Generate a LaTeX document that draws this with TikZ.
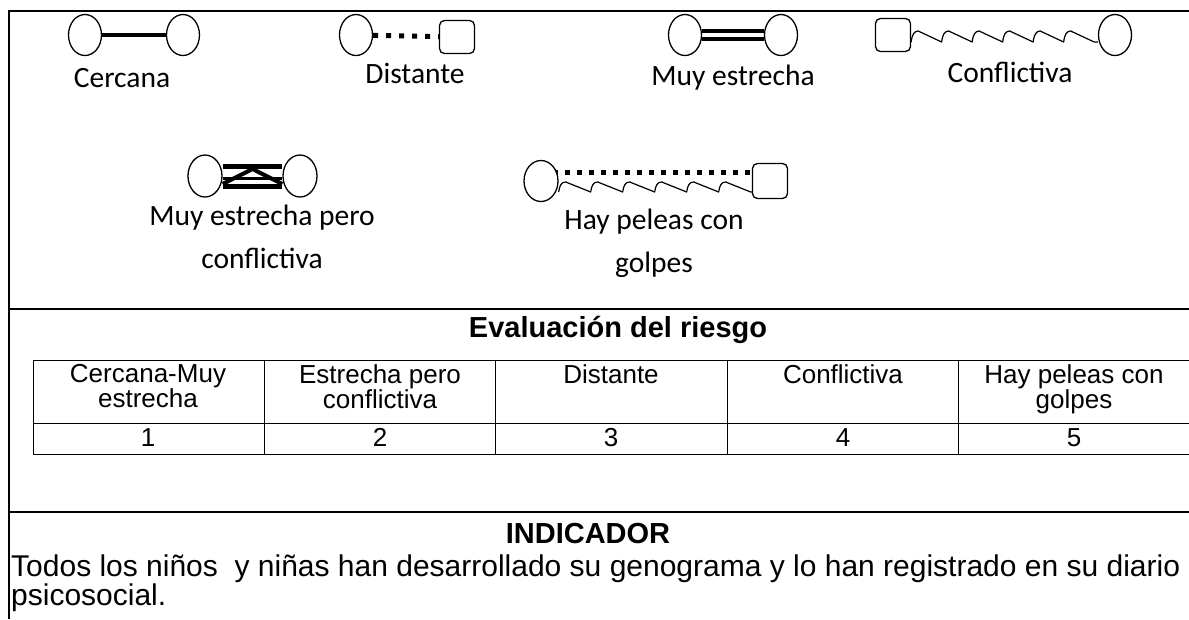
\documentclass[tikz,border=0pt]{standalone}
\usepackage{fontspec}
\setmainfont{Liberation Sans}
\newfontfamily\calibri{Carlito}
\usetikzlibrary{shapes.geometric,decorations,backgrounds,calc}
% saw teeth with a curled rising edge
\pgfdeclaredecoration{hooksaw}{init}{
  \state{init}[width=+0pt, next state=tooth]{\pgfpathmoveto{\pgfpointorigin}}
  \state{tooth}[switch if less than=+\pgfdecorationsegmentlength to final, width=+\pgfdecorationsegmentlength]{
    \pgfpathcurveto{\pgfpoint{1pt}{0.7*\pgfdecorationsegmentamplitude}}{\pgfpoint{3pt}{\pgfdecorationsegmentamplitude}}{\pgfpoint{7pt}{\pgfdecorationsegmentamplitude}}
    \pgfpathlineto{\pgfpoint{\pgfdecorationsegmentlength}{0pt}}
  }
  \state{final}{\pgfpathlineto{\pgfpointdecoratedpathlast}}
}
\tikzset{
  person/.style={draw, fill=white, ellipse, line width=1.3pt, minimum width=33pt, minimum height=41pt},
  boxperson/.style={draw, fill=white, rectangle, rounded corners=5pt, line width=1.3pt, minimum width=35pt, minimum height=33pt},
  legend/.style={font=\calibri\fontsize{29.5}{33}\selectfont},
  frameline/.style={line width=1.5pt},
  gridline/.style={line width=1pt},
  celltxt/.style={font=\fontsize{26}{23}\selectfont, align=center, anchor=north},
  headtxt/.style={font=\bfseries\fontsize{29}{33}\selectfont},
  bodytxt/.style={font=\fontsize{30}{27}\selectfont, align=left, anchor=north west},
  closetie/.style={line width=4.5pt},
  fartie/.style={line width=5pt, dash pattern=on 5pt off 8pt},
  fusedtie/.style={line width=4pt, double, double distance=4pt},
  hostiletie/.style={line width=1.2pt, line join=round, decorate, decoration={hooksaw, segment length=30.5pt, amplitude=11pt}}
}
\begin{document}
\begin{tikzpicture}[x=1pt,y=-1pt]
\tikzstyle{every node}+=[inner sep=0pt]
\useasboundingbox (0,0) rectangle (1189,619);
% outer frame and dividers
\draw [frameline] (9,619) -- (9,11) -- (1189,11);
\draw [frameline] (9,309) -- (1189,309);
\draw [frameline] (9,512) -- (1189,512);
% legend, first row
\node [person] (cerA) at (85,35) {};
\node [person] (cerB) at (183,35) {};
\node [legend] (cerT) at (122,78) {Cercana};
\node [person] (disA) at (356,35) {};
\node [boxperson] (disB) at (457,37) {};
\node [legend] (disT) at (415,73) {Distante};
\node [person] (fusA) at (685,35) {};
\node [person] (fusB) at (781,35) {};
\node [legend] (fusT) at (733,78) {Muy estrecha};
\node [boxperson] (conA) at (893,35) {};
\node [person] (conB) at (1115,35) {};
\node [legend] (conT) at (1010,72) {Conflictiva};
% legend, second row
\node [person, minimum width=34pt, minimum height=42pt] (mecA) at (205,176) {};
\node [person, minimum width=34pt, minimum height=42pt] (mecB) at (300,176) {};
\node [legend] (mecT) at (262,218) {Muy estrecha pero};
\node [legend] (mecU) at (262,258) {conflictiva};
\node [person, minimum width=34pt] (hayA) at (541,181) {};
\node [boxperson, minimum height=35pt] (hayB) at (770,181) {};
\node [legend] (hayT) at (654,222) {Hay peleas con};
\node [legend] (hayU) at (654,265) {golpes};
\begin{scope}[on background layer]
\draw [closetie] (cerA) -- (cerB);
\draw [fartie] (disA) -- (disB);
\draw [fusedtie] (fusA) -- (fusB);
\draw [hostiletie] ([yshift=-7pt]conA.east) -- ([yshift=-7pt]conB.west);
\draw [line width=5pt, double, double distance=15pt] (mecA) -- (mecB);
\draw [line width=3pt] ($(mecA.east)+(0,2)$) -- ($(mecB.west)+(0,2)$);
\draw [line width=4pt] ($(mecA.east)+(0,8)$) -- ($(mecA)!0.5!(mecB)+(0,-7)$) -- ($(mecB.west)+(0,8)$);
\draw [line width=5pt, dash pattern=on 5pt off 7pt] ([yshift=9pt]hayA.center) -- ([yshift=9pt]hayB.center);
\draw [hostiletie, decoration={segment length=32pt, amplitude=10pt}] ([yshift=-11pt]hayA.east) -- ([yshift=-11pt]hayB.west);
\end{scope}
% risk table
\node [headtxt] (evalT) at (618,330) {Evaluación del riesgo};
\draw [gridline] (1190,360) -- (33,360) -- (33,454) -- (1190,454);
\draw [gridline] (33,423) -- (1190,423);
\foreach \cx in {264,495,727,958}
  \draw [gridline] (\cx,360) -- (\cx,454);
\node [celltxt] (hA) at (148,364) {Cercana-Muy\\estrecha};
\node [celltxt] (hB) at (380,364) {Estrecha pero\\conflictiva};
\node [celltxt] (hC) at (611,364) {Distante};
\node [celltxt] (hD) at (843,364) {Conflictiva};
\node [celltxt] (hE) at (1074,364) {Hay peleas con\\golpes};
\foreach \cx/\val in {148/1,380/2,611/3,843/4,1074/5}
  \node [celltxt] (n\val) at (\cx,428) {\val};
% indicator
\node [headtxt] (indT) at (588,534) {INDICADOR};
\node [bodytxt] (indA) at (11,555) {Todos los niños\ \ y niñas han desarrollado su genograma y lo han registrado en su diario\\psicosocial.};
\end{tikzpicture}
\end{document}
